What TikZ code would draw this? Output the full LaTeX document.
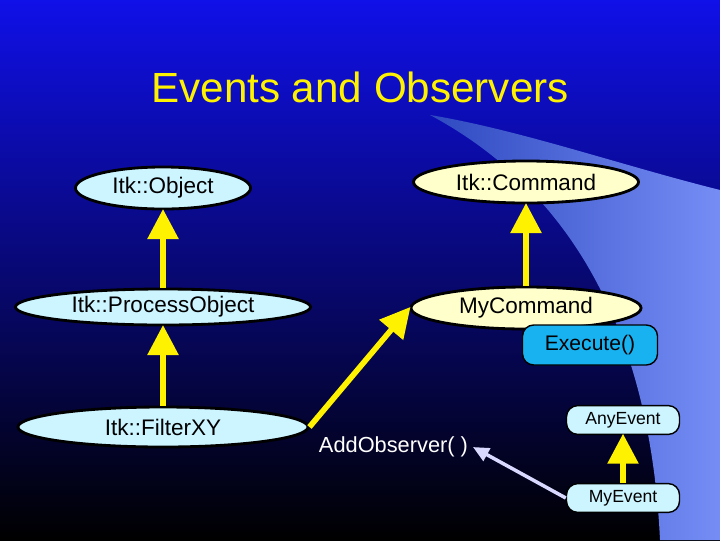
\documentclass[tikz,border=0pt]{standalone}
\usepackage{fontspec}
\setmainfont{Liberation Sans}
\usetikzlibrary{shapes.geometric,arrows.meta}
\definecolor{cream}{HTML}{FFFFCC}
\definecolor{icecyan}{HTML}{CCF5FF}
\definecolor{execblue}{HTML}{19B2F0}
\definecolor{topblue}{HTML}{1010E8}
\definecolor{swoosh}{HTML}{3A5CF0}
\tikzset{
  cls/.style={ellipse, draw=black, line width=2pt, inner sep=0pt, font=\fontsize{16}{18}\selectfont},
  base/.style={cls, fill=icecyan},
  cmd/.style={cls, fill=cream},
  tag/.style={rounded corners=8pt, draw=black, line width=1pt, inner sep=0pt, fill=icecyan,
    minimum width=2.825cm, minimum height=0.72cm, font=\fontsize{12.5}{14}\selectfont},
  inherit/.style={draw=yellow, line width=4pt, -{Triangle[width=0.75cm,length=0.75cm]}, shorten >=-1pt},
  notify/.style={draw=white!85!blue, line width=2.5pt, -{Triangle[width=0.35cm,length=0.4cm]}}
}
\begin{document}
\begin{tikzpicture}[x=0.025cm,y=-0.025cm]
    % background
    \shade[top color=topblue, bottom color=black] (0,0) rectangle (720,540);
    \shade[left color=swoosh!80!black, right color=swoosh!70!white]
      (430,115) .. controls (570,190) and (650,330) .. (660,540)
      -- (720,540) -- (720,190) .. controls (620,165) and (520,130) .. cycle;
    \useasboundingbox (0,0) rectangle (720,540);
    \node[text=yellow, font=\fontsize{30}{34}\selectfont] (title) at (360,87) {Events and Observers};

    % classes
    \node[base, minimum width=4.375cm, minimum height=1.05cm] (object) at (163,188) {Itk::Object};
    \node[base, minimum width=7.375cm, minimum height=0.9cm] (process) at (163,307) {Itk::ProcessObject};
    \node[base, minimum width=7.25cm, minimum height=1cm] (filter) at (163,427) {Itk::FilterXY};
    \node[cmd, minimum width=5.625cm, minimum height=1.05cm] (command) at (526,182) {Itk::Command};
    \node[cmd, minimum width=5.75cm, minimum height=1.05cm] (mycommand) at (526,308) {MyCommand};
    \node[rounded corners=8pt, draw=black, line width=1pt, fill=execblue, minimum width=3.375cm,
      minimum height=1cm, font=\fontsize{15}{17}\selectfont] (execute) at (590,345) {Execute()};
    \node[tag] (anyevent) at (623,420) {AnyEvent};
    \node[tag] (myevent) at (623,498) {MyEvent};
    \node[text=white, anchor=west, font=\fontsize{15.5}{17}\selectfont] (addobs) at (314,447) {AddObserver( )};

    % connectors
    \draw[inherit] (process.north) -- (object.south);
    \draw[inherit] (filter.north) -- (process.south);
    \draw[inherit] (mycommand.north) -- (command.south);
    \draw[inherit] (filter.east) -- (mycommand.west);
    \draw[inherit] (myevent.north) -- (anyevent.south);
    \draw[notify] (myevent.west) -- (addobs.east);
\end{tikzpicture}
\end{document}
